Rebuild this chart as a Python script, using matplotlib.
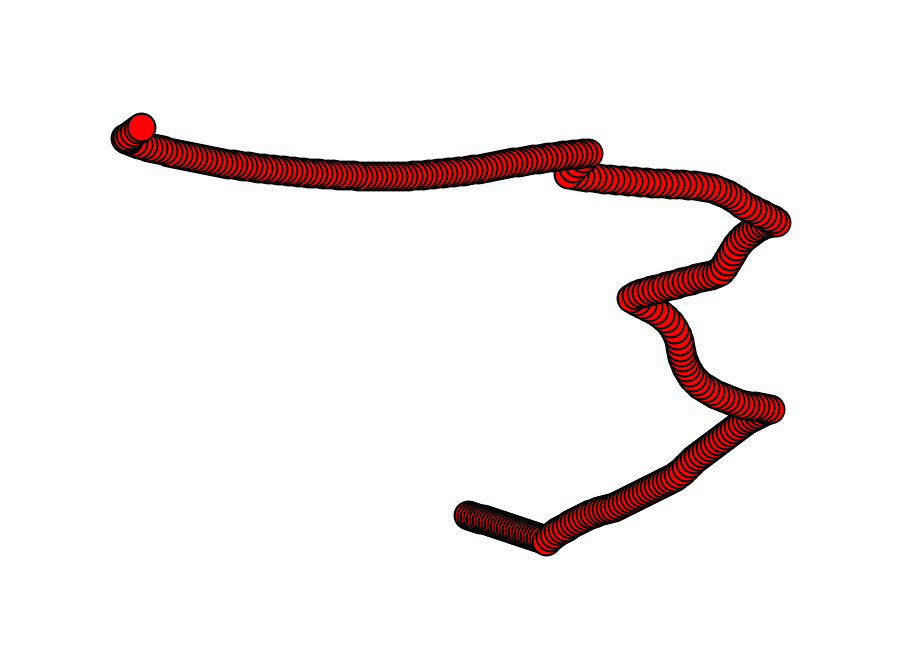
#!/usr/bin/env python3
import numpy as np
import matplotlib
matplotlib.use("Agg")
import matplotlib.pyplot as plt

# track, in image pixel units (y grows downward)
# bottom start, heading right
seg_a_x = [468, 471, 474, 477, 480, 483, 486, 489, 492, 495, 498, 501, 504, 507,
           510, 513, 516, 519, 522, 525, 528, 531, 534, 537, 540, 543, 546]
seg_a_y = [515, 516, 517, 518, 519, 519, 520, 521, 522, 523, 524, 525, 526, 527,
           528, 529, 530, 531, 532, 533, 534, 535, 536, 537, 538, 539, 541]

# climb up to the right
seg_b_x = [550, 554, 558, 562, 566, 570, 574, 578, 582, 586, 590, 594, 598, 602,
           606, 610, 614, 618, 622, 626, 630, 634, 638, 642, 646, 650, 654, 658,
           662, 666, 670, 674, 678, 682, 686, 690]
seg_b_y = [537, 534, 531, 529, 527, 524, 522, 520, 518, 516, 514, 513, 511, 510,
           509, 508, 507, 505, 503, 501, 499, 497, 495, 493, 491, 489, 487, 485,
           483, 481, 479, 477, 474, 471, 467, 463]

seg_c_x = [694, 698, 702, 706, 710, 714, 718, 722, 726, 730, 734, 738, 742, 746,
           750, 754, 758, 762, 766, 770]
seg_c_y = [459, 456, 453, 450, 447, 444, 441, 438, 435, 432, 429, 426, 423, 420,
           418, 416, 414, 412, 410, 409]

# back left and the S bend
seg_d_x = [765, 760, 755, 750, 745, 740, 735, 730, 725, 720, 715, 710, 705, 700,
           696, 692, 689, 686, 684, 682, 681, 680, 679, 677, 674, 670, 665, 660,
           654, 648, 642, 636, 631]
seg_d_y = [408, 407, 406, 406, 405, 404, 402, 400, 398, 396, 394, 391, 388, 385,
           381, 377, 372, 367, 362, 357, 352, 347, 341, 335, 329, 323, 318, 314,
           310, 307, 304, 301, 298]

seg_e_x = [636, 641, 646, 651, 656, 661, 666, 671, 676, 681, 686, 691, 696, 701,
           706, 711, 716, 720]
seg_e_y = [295, 293, 292, 290, 289, 288, 286, 285, 284, 282, 281, 280, 278, 277,
           276, 275, 273, 271]

seg_f_x = [724, 727, 730, 733, 736, 740, 744, 748, 752, 756, 760, 764, 768, 772, 776]
seg_f_y = [266, 261, 256, 251, 246, 241, 237, 234, 231, 228, 226, 224, 223, 222, 222]

# upper right band, heading left
seg_g_x = [772, 767, 762, 757, 752, 747, 742, 737, 732, 727, 722, 717, 712, 706,
           700, 694, 688, 682, 676, 670, 664, 658, 652, 646, 640, 634, 628, 622,
           616, 610, 604, 598, 592, 586, 580, 574, 568, 573, 578, 583]
seg_g_y = [219, 217, 214, 212, 209, 207, 204, 200, 197, 194, 192, 190, 188, 187,
           186, 185, 185, 184, 184, 184, 183, 183, 183, 182, 182, 181, 181, 180,
           180, 179, 179, 178, 177, 177, 176, 175, 174, 168, 163, 158]

# long top band to the left end
seg_h_x = [588, 583, 578, 573, 568, 563, 558, 553, 548, 543, 538, 533, 528, 523,
           518, 513, 508, 503, 498, 493, 488, 483, 478, 473, 468, 463, 458, 453,
           448, 443, 438, 433, 428, 423, 418, 413, 408, 403, 398, 393, 388, 383,
           378, 373, 368, 363, 358, 353, 348, 343, 338, 333, 328, 323, 318, 313,
           308, 303, 298, 293, 288, 283, 278, 273, 268, 263, 258, 253, 248, 243,
           238, 233, 228, 223, 218, 213, 208, 203, 198, 193, 188, 183, 178, 173,
           168, 163, 158, 153, 148, 143, 138, 133, 128]
seg_h_y = [153, 153, 154, 154, 155, 155, 156, 157, 157, 158, 159, 159, 160, 161,
           162, 162, 163, 164, 165, 166, 167, 168, 169, 169, 170, 171, 171, 172,
           172, 173, 173, 174, 174, 175, 175, 175, 176, 176, 176, 176, 176, 176,
           176, 176, 176, 176, 176, 175, 175, 175, 175, 174, 174, 174, 173, 173,
           173, 172, 172, 171, 171, 170, 170, 169, 169, 168, 168, 167, 166, 166,
           165, 164, 164, 163, 162, 161, 160, 159, 158, 157, 156, 155, 154, 153,
           152, 150, 149, 148, 147, 145, 144, 142, 140]

end_x = [126, 125, 127, 130, 134, 138, 141]
end_y = [139, 138, 137, 135, 132, 129, 127]


def main():
    xs = np.concatenate([seg_a_x, seg_b_x, seg_c_x, seg_d_x, seg_e_x,
                         seg_f_x, seg_g_x, seg_h_x, end_x])
    ys = np.concatenate([seg_a_y, seg_b_y, seg_c_y, seg_d_y, seg_e_y,
                         seg_f_y, seg_g_y, seg_h_y, end_y])

    fig = plt.figure(figsize=(8.98, 6.52), dpi=100)
    ax = fig.add_axes([0, 0, 1, 1])
    ax.scatter(xs, ys, s=400, c="red", edgecolors="black", linewidths=1.5)
    ax.set_xlim(0, 898)
    ax.set_ylim(652, 0)
    ax.axis("off")

    fig.savefig("out.png", dpi=100)


if __name__ == "__main__":
    main()
